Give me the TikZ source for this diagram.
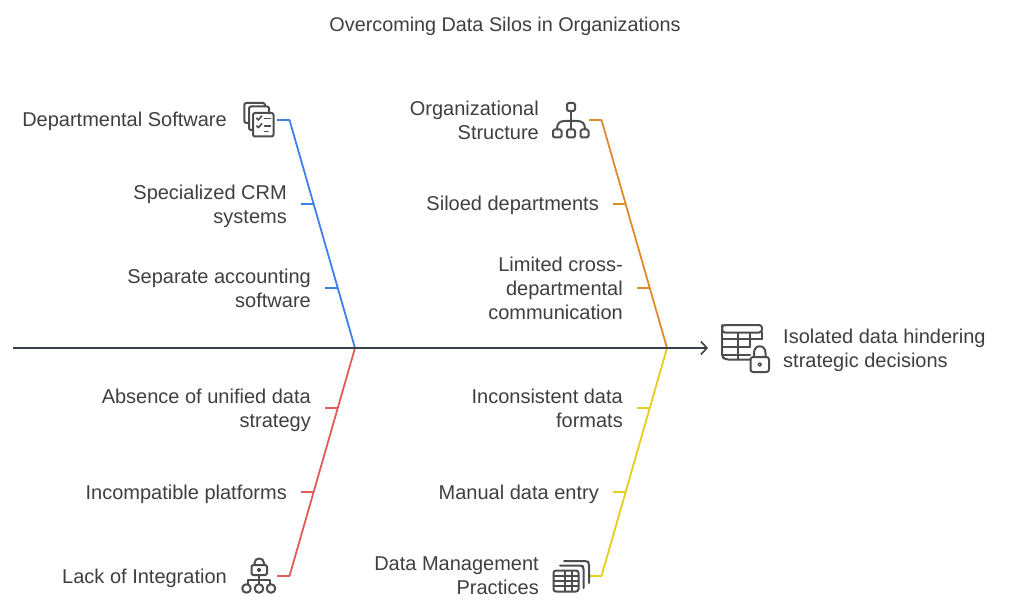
\documentclass[tikz,border=0pt]{standalone}
\usepackage{fontspec}
\setmainfont{Liberation Sans}
\usetikzlibrary{arrows.meta}
\definecolor{txt}{HTML}{3F3F3F}
\definecolor{spine}{HTML}{3B3F46}
\definecolor{icn}{HTML}{4D4D4D}
\definecolor{cblue}{HTML}{3F7FEA}
\definecolor{corange}{HTML}{E08A2E}
\definecolor{cred}{HTML}{E25B5B}
\definecolor{cyellow}{HTML}{E6CF1A}
\tikzset{
  lbl/.style={inner sep=0pt,text=txt,font=\fontsize{20}{24}\selectfont,align=right,anchor=east,yshift=-3.4pt,execute at begin node=\strut,execute at end node=\strut},
  lblone/.style={lbl,yshift=1.2pt},
  lblL/.style={inner sep=0pt,text=txt,font=\fontsize{20}{24}\selectfont,align=left,anchor=west,yshift=-3.4pt,execute at begin node=\strut,execute at end node=\strut},
  ttl/.style={inner sep=0pt,text=txt,font=\fontsize{19.8}{24}\selectfont,yshift=-2.4pt,execute at begin node=\strut},
  bone/.style={line width=1.8pt,line join=round},
  ic/.style={draw=icn,line width=2pt,line join=round,line cap=round},
  icf/.style={ic,fill=white},
}
\begin{document}
\begin{tikzpicture}[x=1pt,y=-1pt]
\useasboundingbox[fill=white] (0,0) rectangle (1009,612);
\node[ttl] (title) at (505,24) {Overcoming Data Silos in Organizations};
% labels
\node[lblone] (l1) at (227,120) {Departmental Software};
\node[lbl] (l2) at (287,204) {Specialized CRM\\systems};
\node[lbl] (l3) at (311,288) {Separate accounting\\software};
\node[lbl] (l4) at (539,120) {Organizational\\Structure};
\node[lblone] (l5) at (599,204) {Siloed departments};
\node[lbl] (l6) at (623,288) {Limited cross-\\departmental\\communication};
\node[lbl] (l7) at (311,408) {Absence of unified data\\strategy};
\node[lblone] (l8) at (287,492) {Incompatible platforms};
\node[lblone] (l9) at (227,576) {Lack of Integration};
\node[lbl] (l10) at (623,408) {Inconsistent data\\formats};
\node[lblone] (l11) at (599,492) {Manual data entry};
\node[lbl] (l12) at (539,576) {Data Management\\Practices};
\node[lblL] (effect) at (783,348) {Isolated data hindering\\strategic decisions};
% coordinates
\coordinate (tail) at (13,348);
\coordinate (head) at (708,348);
\coordinate (j1) at (355,348);
\coordinate (j2) at (667,348);
\coordinate (b0) at (277,120); \coordinate (b1) at (289.5,120);
\coordinate (o0) at (589,120); \coordinate (o1) at (601.5,120);
\coordinate (r0) at (277,576); \coordinate (r1) at (289.5,576);
\coordinate (y0) at (589,576); \coordinate (y1) at (601.5,576);
% bones
\draw[bone,cblue] (b0) -- (b1) -- (j1);
\draw[bone,corange] (o0) -- (o1) -- (j2);
\draw[bone,cred] (r0) -- (r1) -- (j1);
\draw[bone,cyellow] (y0) -- (y1) -- (j2);
\draw[bone,cblue] (301,204) -- (313.5,204);
\draw[bone,cblue] (325,288) -- (337.5,288);
\draw[bone,corange] (613,204) -- (625.5,204);
\draw[bone,corange] (637,288) -- (649.5,288);
\draw[bone,cred] (325,408) -- (337.5,408);
\draw[bone,cred] (301,492) -- (313.5,492);
\draw[bone,cyellow] (637,408) -- (649.5,408);
\draw[bone,cyellow] (613,492) -- (625.5,492);
% spine
\draw[line width=1.6pt,spine,-{Straight Barb[length=6pt,width=13pt,line width=1.6pt]}] (tail) -- (head);
% icon: departmental software
\begin{scope}[shift={(230,90)}]
\draw[icf,rounded corners=2pt] (14.3,33) -- (14.3,13) -- (35,13) -- (35,33) -- cycle;
\draw[icf,rounded corners=2pt] (19,40) -- (19,16.5) -- (39,16.5) -- (39,40) -- cycle;
\draw[icf,rounded corners=2pt] (23,23) rectangle (43.5,46.5);
\draw[ic,line width=1.6pt] (26.7,28.3) -- (28.3,30) -- (31.7,26);
\draw[ic,line width=1.6pt] (26.7,36) -- (28.3,37.7) -- (31.7,33.7);
\draw[ic,line width=1.6pt] (34.5,28.5) -- (40.5,28.5) (34.5,36) -- (40.5,36) (34.5,41.5) -- (38,41.5);
\end{scope}
% icon: org structure
\begin{scope}[shift={(540,90)}]
\draw[ic,rounded corners=1.5pt] (27,13) rectangle (35,21);
\draw[ic] (31,21) -- (31,39);
\draw[ic] (17,39) .. controls (17,33) and (20,31) .. (25,31) -- (37,31) .. controls (42,31) and (45,33) .. (45,39);
\draw[icf,rounded corners=1.5pt] (13,39.5) rectangle (21.5,47.5);
\draw[icf,rounded corners=1.5pt] (27,39.5) rectangle (35,47.5);
\draw[icf,rounded corners=1.5pt] (40.5,39.5) rectangle (48.5,47.5);
\end{scope}
% icon: table lock
\begin{scope}[shift={(690,315)}]
\draw[ic,rounded corners=3pt] (32,10) -- (72,10) -- (72,17.5) -- (32,17.5) -- cycle;
\draw[ic,rounded corners=3pt] (60,44.5) -- (35,44.5) -- (32,41.5) -- (32,10);
\draw[ic] (32,23.5) -- (72,23.5) (32,32) -- (60,32) (32,40) -- (60,40);
\draw[ic] (48,18) -- (48,44) (60,18) -- (60,31);
\draw[ic] (72,17) -- (72,23.5);
\draw[icf,rounded corners=2.5pt] (60.5,42) rectangle (79,57);
\draw[ic] (64,42) -- (64,38) .. controls (64,29) and (75.5,29) .. (75.5,38) -- (75.5,42);
\draw[ic,line width=1.3pt] (69.7,49.5) circle (1.7pt);
\end{scope}
% icon: lack of integration
\begin{scope}[shift={(230,550)}]
\draw[ic,rounded corners=2pt] (21.5,15) rectangle (37,25);
\draw[ic] (24.5,15) -- (24.5,13) .. controls (24.5,7) and (34,7) .. (34,13) -- (34,15);
\draw[ic] (29,20) circle (1.2pt);
\draw[ic] (29,25) -- (29,37);
\draw[ic] (18,36) -- (18,30) -- (40,30) -- (40,36);
\draw[icf] (16.5,38.5) circle (4.3pt);
\draw[icf] (29,38.5) circle (4.3pt);
\draw[icf] (41,38.5) circle (4.3pt);
\end{scope}
% icon: data management
\begin{scope}[shift={(540,550)}]
\draw[ic,rounded corners=2pt] (24,11) -- (47,11) -- (49,12.5) -- (49,33);
\draw[ic,rounded corners=2pt] (20,15.5) -- (42,15.5) -- (43.5,17) -- (43.5,38);
\draw[icf,rounded corners=2.5pt] (13.5,20.5) rectangle (38.5,41.5);
\draw[ic] (13.5,25.5) -- (38.5,25.5) (13.5,31) -- (38.5,31) (13.5,36) -- (38.5,36);
\draw[ic] (25,21) -- (25,41) (32,21) -- (32,41);
\end{scope}
\end{tikzpicture}
\end{document}
